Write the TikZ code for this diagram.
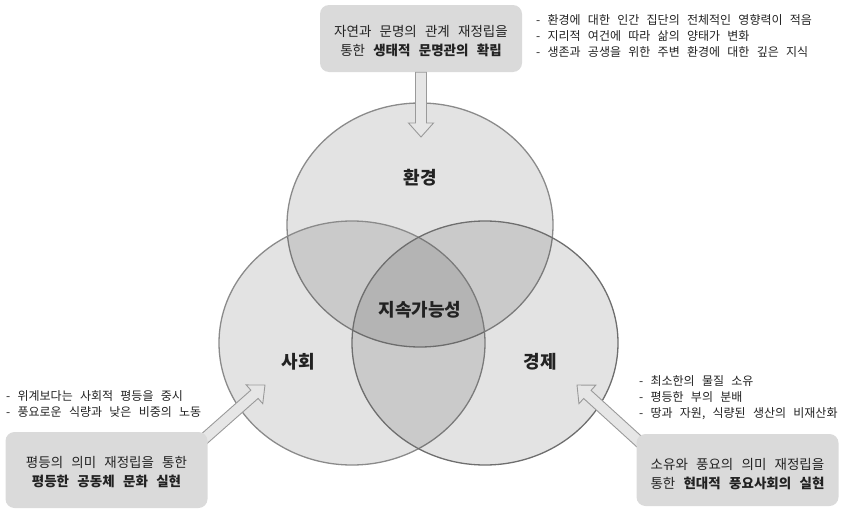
\documentclass[tikz,border=0pt]{standalone}
\usepackage{fontspec}
\setmainfont{Noto Sans CJK KR}[WordSpace=2.7]
\usepackage{xcolor}
\usepackage{tikz}
\usetikzlibrary{calc,positioning}
\usetikzlibrary{shapes.geometric}

\definecolor{vennedge}{HTML}{8A8A8A}
\definecolor{boxgray}{HTML}{DADADA}
\definecolor{arrowedge}{HTML}{9A9A9A}
\definecolor{arrowfill}{HTML}{E6E6E6}
\definecolor{inktext}{HTML}{222222}

\tikzset{
  venn/.style={ellipse,draw=vennedge,line width=1.3pt,fill=black,fill opacity=0.11,
    draw opacity=1,minimum width=266pt,minimum height=244pt,inner sep=0pt},
  vennlabel/.style={font=\fontsize{18}{20}\selectfont\bfseries,text=inktext},
  goalbox/.style={rounded corners=9pt,fill=boxgray,minimum width=202pt,inner sep=0pt},
  goaltext/.style={align=center,text=inktext,inner sep=0pt,
    font=\fontsize{13.5}{19}\selectfont},
  note/.style={align=left,anchor=north west,text=inktext,inner sep=0pt,
    font=\fontsize{12}{16}\selectfont},
  blockarrow/.style={draw=arrowedge,fill=arrowfill,line width=0.9pt,line join=miter}
}

% hollow block arrow from #1 to #2
\newcommand{\hollowarrow}[2]{%
  \path[blockarrow] let \p1=(#1), \p2=(#2),
    \n1={atan2(\y2-\y1,\x2-\x1)}, \n2={veclen(\x2-\x1,\y2-\y1)} in
    [shift={(\p1)},rotate=\n1]
    (0pt,-5.5pt) -- ({\n2-14pt},-5.5pt) -- ({\n2-14pt},-12.5pt) -- ({\n2},0pt)
    -- ({\n2-14pt},12.5pt) -- ({\n2-14pt},5.5pt) -- (0pt,5.5pt) -- cycle;}

\begin{document}
\begin{tikzpicture}[x=1pt,y=-1pt]
 \useasboundingbox (0,0) rectangle (844,514);
 % the three circles
 \node[venn] (env) at (420,225) {};
 \node[venn] (soc) at (352,343) {};
 \node[venn,draw=vennedge!80!black] (eco) at (485,343) {};
 \node[vennlabel] (envlbl) at (420,178) {환경};
 \node[vennlabel] (core) at (420,310) {지속가능성};
 \node[vennlabel] (soclbl) at (298,362) {사회};
 \node[vennlabel] (ecolbl) at (540,362) {경제};

 % arrow ends
 \coordinate (envtip) at (421,137);
 \coordinate (soctail) at (196,446);
 \coordinate (soctip) at (265,385);
 \coordinate (ecotail) at (644,446);
 \coordinate (ecotip) at (577,385);

 % goals
 \node[goalbox,minimum height=67pt] (envgoal) at (421,38.5) {};
 \node[goaltext] (envtext) at ([yshift=-3pt]envgoal.center)
   {자연과 문명의 관계 재정립을\\통한 \textbf{생태적 문명관의 확립}};
 \hollowarrow{envgoal.south}{envtip}
 \hollowarrow{soctail}{soctip}
 \hollowarrow{ecotail}{ecotip}
 \node[goalbox,minimum height=76pt] (socgoal) at (106.5,470) {};
 \node[goaltext] (soctext) at ([yshift=-2pt]socgoal.center)
   {평등의 의미 재정립을 통한\\\textbf{평등한 공동체 문화 실현}};
 \node[goalbox,minimum height=72pt] (ecogoal) at (737.5,470) {};
 \node[goaltext] (ecotext) at ([yshift=-4pt]ecogoal.center)
   {소유와 풍요의 의미 재정립을\\통한 \textbf{현대적 풍요사회의 실현}};

 % notes
 \node[note] (envnote) at (536,14)
   {- 환경에 대한 인간 집단의 전체적인 영향력이 적음\\- 지리적 여건에 따라 삶의 양태가 변화\\- 생존과 공생을 위한 주변 환경에 대한 깊은 지식};
 \node[note] (socnote) at (6,390)
   {- 위계보다는 사회적 평등을 중시\\- 풍요로운 식량과 낮은 비중의 노동};
 \node[note] (econote) at (639,375)
   {- 최소한의 물질 소유\\- 평등한 부의 분배\\- 땅과 자원, 식량된 생산의 비재산화};
\end{tikzpicture}
\end{document}
